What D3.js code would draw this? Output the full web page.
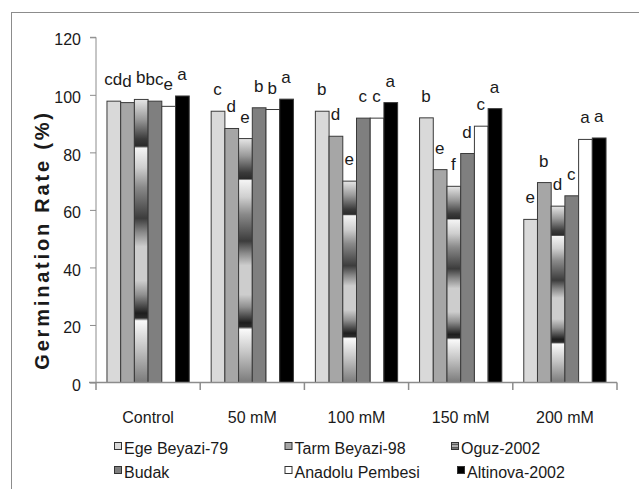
<!DOCTYPE html>
<html>
<head>
<meta charset="utf-8">
<script src="https://cdn.jsdelivr.net/npm/d3@7"></script>
<style>
  html, body { margin: 0; padding: 0; background: #fff; }
  svg { display: block; font-family: "Liberation Sans", Arial, sans-serif; }
</style>
</head>
<body>
<svg id="chart" width="639" height="489"></svg>
<script>
// ---- data ----
const categories = ["Control", "50 mM", "100 mM", "150 mM", "200 mM"];
const series = ["Ege Beyazi-79", "Tarm Beyazi-98", "Oguz-2002", "Budak", "Anadolu Pembesi", "Altinova-2002"];
const egeBeyazi79   = [97.8, 94.3, 94.3, 92.0, 56.7];
const tarmBeyazi98  = [97.3, 88.3, 85.6, 74.0, 69.5];
const oguz2002      = [98.4, 84.8, 70.0, 68.2, 61.3];
const budak         = [97.8, 95.5, 91.9, 79.6, 64.9];
const anadoluPembesi= [96.0, 94.9, 91.9, 89.1, 84.5];
const altinova2002  = [99.6, 98.5, 97.3, 95.2, 85.0];
const seriesValues = [egeBeyazi79, tarmBeyazi98, oguz2002, budak, anadoluPembesi, altinova2002];
const letters = [
  ["cd", "d", "b", "bc", "e", "a"],
  ["c", "d", "e", "b", "b", "a"],
  ["b", "d", "e", "c", "c", "a"],
  ["b", "e", "f", "d", "c", "a"],
  ["e", "b", "d", "c", "a", "a"]
];
const yTicks = [0, 20, 40, 60, 80, 100, 120];
const yTitle = "Germination Rate (%)";

// ---- styles ----
const fills = ["#d9d9d9", "#a6a6a6", "url(#oguzGrad)", "#7f7f7f", "#ffffff", "#000000"];
const axisColor = "#8c8c8c";

const svg = d3.select("#chart");

// outer frame
svg.append("rect").attr("x", 11.5).attr("y", 12.5).attr("width", 700).attr("height", 600)
  .attr("fill", "none").attr("stroke", "#8c8c8c").attr("stroke-width", 1);

// gradient for Oguz-2002
const defs = svg.append("defs");
const grad = defs.append("linearGradient").attr("id", "oguzGrad")
  .attr("x1", 0).attr("y1", 0).attr("x2", 0).attr("y2", 1);
const stops = [
  [0.00, "#e6e6e6"], [0.07, "#9a9a9a"], [0.14, "#3a3a3a"], [0.165, "#2a2a2a"],
  [0.172, "#f4f4f4"], [0.24, "#cfcfcf"], [0.31, "#8a8a8a"], [0.42, "#3c3c3c"],
  [0.47, "#8a8a8a"], [0.52, "#cdcdcd"], [0.64, "#cdcdcd"], [0.69, "#909090"],
  [0.755, "#1e1e1e"], [0.772, "#2a2a2a"], [0.782, "#fafafa"], [0.88, "#c4c4c4"],
  [1.00, "#7a7a7a"]
];
stops.forEach(s => grad.append("stop").attr("offset", s[0]).attr("stop-color", s[1]));

// legend gradient (horizontal stripes)
const lgrad = defs.append("linearGradient").attr("id", "oguzLeg")
  .attr("x1", 0).attr("y1", 0).attr("x2", 0).attr("y2", 1);
[[0, "#e0e0e0"], [0.3, "#555"], [0.5, "#ddd"], [0.75, "#444"], [1, "#bbb"]]
  .forEach(s => lgrad.append("stop").attr("offset", s[0]).attr("stop-color", s[1]));

// ---- scales ----
const x0 = d3.scaleBand().domain(categories).range([96, 617]).paddingInner(0).paddingOuter(0);
const x1 = d3.scaleBand().domain(series).range([0, x0.bandwidth()]).paddingInner(0).paddingOuter(0.8);
const y = d3.scaleLinear().domain([0, 120]).range([382.5, 37.3]);

// ---- y axis ----
const yAxis = d3.axisLeft(y).tickValues(yTicks).tickSize(6).tickPadding(9);
const gy = svg.append("g").attr("transform", "translate(96,0)").call(yAxis);
gy.select(".domain").attr("stroke", axisColor).attr("d", `M-6,${y(120)}H0V${y(0)}`);
gy.selectAll(".tick line").attr("stroke", axisColor);
gy.selectAll(".tick text").attr("font-size", 16).attr("fill", "#1a1a1a").attr("dy", "0.48em")
  .attr("font-family", "Liberation Sans, Arial, sans-serif");

// ---- bars ----
const groups = svg.append("g").selectAll("g").data(categories).join("g")
  .attr("transform", d => `translate(${x0(d)},0)`);

groups.selectAll("rect").data((c, ci) => series.map((s, si) => ({ s, si, ci, v: seriesValues[si][ci] })))
  .join("rect")
  .attr("x", d => x1(d.s))
  .attr("y", d => y(d.v))
  .attr("width", x1.bandwidth())
  .attr("height", d => y(0) - y(d.v))
  .attr("fill", d => fills[d.si])
  .attr("stroke", "#3a3a3a")
  .attr("stroke-width", 1);

groups.selectAll("text.sig").data((c, ci) => series.map((s, si) => ({ s, si, ci, v: seriesValues[si][ci] })))
  .join("text").attr("class", "sig")
  .attr("x", d => x1(d.s) + x1.bandwidth() / 2 - 0.5)
  .attr("y", d => y(d.v) - 16)
  .attr("text-anchor", "middle")
  .attr("font-size", 17)
  .attr("fill", "#1a1a1a")
  .text(d => letters[d.ci][d.si]);

// ---- x axis ----
const gx = svg.append("g");
const xEnd = x0(categories[categories.length - 1]) + x0.bandwidth();
gx.append("line").attr("x1", 89).attr("x2", xEnd).attr("y1", y(0)).attr("y2", y(0))
  .attr("stroke", axisColor).attr("stroke-width", 1.5);
const bounds = categories.map(c => x0(c)).concat([xEnd]);
gx.selectAll("line.tk").data(bounds).join("line").attr("class", "tk")
  .attr("x1", d => d).attr("x2", d => d).attr("y1", y(0)).attr("y2", y(0) + 7.5)
  .attr("stroke", axisColor).attr("stroke-width", 1.5);
gx.selectAll("text").data(categories).join("text")
  .attr("x", d => x0(d) + x0.bandwidth() / 2)
  .attr("y", 423)
  .attr("text-anchor", "middle")
  .attr("font-size", 16)
  .attr("fill", "#1a1a1a")
  .text(d => d);

// ---- y title ----
svg.append("text")
  .attr("transform", "translate(49,240) rotate(-90)")
  .attr("text-anchor", "middle")
  .attr("font-size", 20)
  .attr("font-weight", "bold")
  .attr("letter-spacing", 2.8)
  .attr("fill", "#1a1a1a")
  .text(yTitle);

// ---- legend ----
const legendPos = [
  { x: 114, y: 454 }, { x: 284.5, y: 454 }, { x: 451, y: 454 },
  { x: 114, y: 478 }, { x: 284.5, y: 478 }, { x: 457, y: 478 }
];
const legendFills = ["#d9d9d9", "#a6a6a6", "url(#oguzLeg)", "#7f7f7f", "#ffffff", "#000000"];
const lg = svg.append("g").selectAll("g").data(series).join("g")
  .attr("transform", (d, i) => `translate(${legendPos[i].x},${legendPos[i].y})`);
lg.append("rect").attr("x", 0.5).attr("y", -11.5).attr("width", 7).attr("height", 7)
  .attr("fill", (d, i) => legendFills[i]).attr("stroke", "#333").attr("stroke-width", 1);
lg.append("text").attr("x", 10).attr("y", 0).attr("font-size", 16).attr("fill", "#1a1a1a").text(d => d);
</script>
</body>
</html>
